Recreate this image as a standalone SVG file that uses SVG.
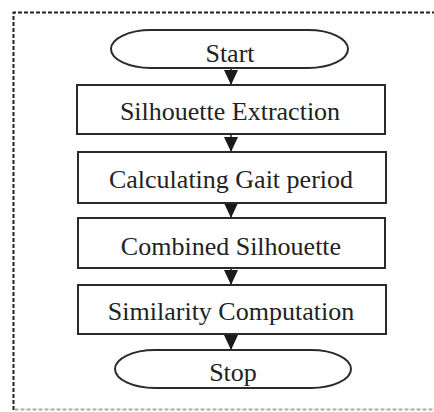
<svg xmlns="http://www.w3.org/2000/svg" width="434" height="412" viewBox="0 0 434 412">
<defs>
<style>
.frame{fill:none;stroke:#222;stroke-width:2;stroke-dasharray:4 2}
.frameb{fill:none;stroke:#aaa;stroke-width:2;stroke-dasharray:4 2}
.box{fill:#fff;stroke:#2a2a2a;stroke-width:2}
.lbl{font-family:"Liberation Serif","Times New Roman",serif;font-size:26px;fill:#222;text-anchor:middle}
.conn{stroke:#222;stroke-width:1.5;fill:none}
</style>
<marker id="arr" markerUnits="userSpaceOnUse" markerWidth="16" markerHeight="16" viewBox="0 0 16 16" refX="8" refY="15" orient="0">
<polygon points="1,0 15,0 8,15" fill="#1a1a1a"/>
</marker>
</defs>
<rect width="434" height="412" fill="#fff"/>
<path class="frame" d="M13.5,410 V12.5 H434"/>
<path class="frameb" d="M14.5,409.5 H434"/>
<g id="connectors">
<path class="conn" d="M231,68 V85" marker-end="url(#arr)"/>
<path class="conn" d="M231,134 V152" marker-end="url(#arr)"/>
<path class="conn" d="M231,203 V218" marker-end="url(#arr)"/>
<path class="conn" d="M231,268 V285" marker-end="url(#arr)"/>
<path class="conn" d="M231,334 V350" marker-end="url(#arr)"/>
</g>
<g id="start">
<rect class="box" x="111" y="30" width="237" height="38" rx="40" ry="19"/>
<text class="lbl" x="230" y="62">Start</text>
</g>
<g id="silhouette-extraction">
<rect class="box" x="77" y="85" width="308" height="49"/>
<text class="lbl" x="230" y="120">Silhouette Extraction</text>
</g>
<g id="gait-period">
<rect class="box" x="78" y="152" width="308" height="51"/>
<text class="lbl" x="231" y="188">Calculating Gait period</text>
</g>
<g id="combined-silhouette">
<rect class="box" x="78" y="218" width="307" height="50"/>
<text class="lbl" x="231" y="255">Combined Silhouette</text>
</g>
<g id="similarity">
<rect class="box" x="78" y="285" width="308" height="49"/>
<text class="lbl" x="231" y="320">Similarity Computation</text>
</g>
<g id="stop">
<rect class="box" x="115" y="350" width="236" height="38" rx="40" ry="19"/>
<text class="lbl" x="233" y="381">Stop</text>
</g>
</svg>
